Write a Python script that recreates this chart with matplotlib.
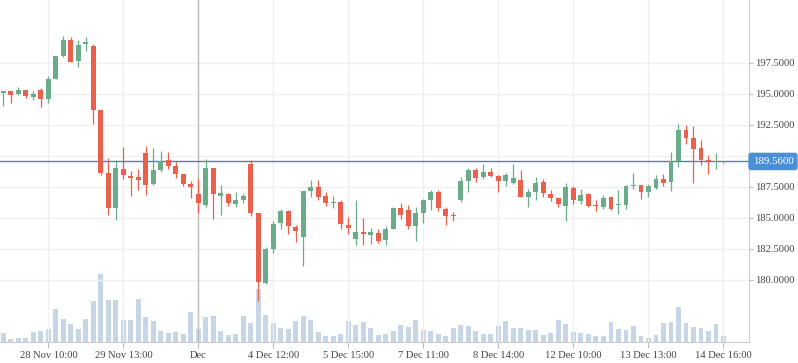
import matplotlib
matplotlib.use("Agg")
import matplotlib.pyplot as plt
import numpy as np

opens = [195.11,195.24,195.00,195.32,194.76,195.32,194.63,196.21,198.07,199.36,
         197.66,199.03,198.87,193.71,188.63,185.81,188.95,188.39,188.31,190.24,
         187.74,188.87,189.68,189.19,188.55,187.74,186.94,186.05,189.03,186.78,
         186.94,186.13,186.45,189.35,185.43,179.78,182.53,184.60,185.56,184.27,
         183.47,187.18,187.50,186.77,186.24,186.29,184.44,183.31,183.87,183.63,
         183.79,183.23,184.11,185.81,185.65,184.35,185.40,186.45,187.10,185.73,
         185.24,186.45,187.98,188.87,188.31,188.71,188.39,187.98,187.82,188.06,
         186.70,187.10,187.90,186.94,186.61,185.97,187.42,186.37,186.94,186.05,
         185.89,186.69,186.05,186.05,187.58,187.66,187.10,187.42,188.15,187.90,
         189.60,192.10,191.45,190.65,189.68,189.52,189.60]
closes = [195.24,194.95,195.32,194.87,195.00,194.63,196.21,198.07,199.36,197.58,
          198.95,199.19,193.71,188.63,185.81,189.03,188.47,188.23,188.06,187.66,
          188.87,189.60,189.19,188.55,187.74,187.50,186.21,189.03,186.94,187.02,
          186.21,186.45,186.78,185.40,179.87,182.53,184.52,185.56,184.35,183.95,
          187.18,187.50,186.69,186.21,186.29,184.52,184.19,183.87,183.71,183.87,
          183.14,184.11,185.81,185.24,184.35,185.40,186.45,187.10,185.81,185.16,
          185.16,187.98,188.87,188.23,188.71,188.39,187.98,188.47,188.23,186.69,
          187.10,187.82,187.02,186.61,186.13,187.50,186.45,186.85,185.97,185.97,
          186.61,185.73,186.13,187.58,187.66,187.10,187.58,188.15,187.82,189.60,
          192.10,191.45,190.56,189.68,189.60,189.60,189.50]
highs = [195.24,195.24,195.57,195.32,195.24,195.48,196.45,198.07,199.70,199.60,
         199.36,199.60,199.03,193.71,189.84,189.68,190.73,188.79,188.95,190.81,
         190.65,190.40,190.32,189.52,188.55,187.98,188.15,189.76,189.03,187.66,
         187.02,187.10,187.02,189.68,185.43,182.69,184.76,185.73,185.65,184.44,
         187.18,188.06,188.06,187.10,186.77,186.45,185.08,186.45,185.00,184.19,
         184.11,184.35,185.89,186.21,186.05,185.89,186.53,187.26,187.26,185.89,
         185.48,188.31,189.03,189.03,189.36,189.03,188.47,188.63,189.36,188.87,
         187.34,188.31,188.15,187.26,186.69,187.82,187.58,187.34,187.02,186.45,
         186.85,186.69,187.26,187.66,188.63,187.66,187.74,188.47,188.55,190.32,
         192.58,192.50,192.42,191.29,190.08,190.24,189.62]
lows = [194.06,194.30,194.92,194.70,194.52,193.98,194.30,196.21,197.98,197.58,
        197.18,198.47,192.58,188.47,185.24,184.84,188.15,186.78,187.26,186.86,
        187.66,188.71,188.95,188.23,187.58,186.61,185.40,185.89,184.92,185.24,
        185.97,185.89,186.21,185.16,178.33,179.68,182.20,184.11,183.71,183.06,
        181.13,186.69,186.45,185.97,185.81,184.11,183.71,182.82,182.82,182.90,
        182.98,182.82,184.11,184.92,184.11,183.14,184.60,185.65,185.56,184.44,
        184.76,186.29,187.10,187.90,188.15,188.31,187.10,187.58,187.74,186.69,
        185.91,186.45,186.69,186.37,185.89,184.76,186.13,186.13,185.89,185.56,
        185.73,185.65,185.35,185.73,187.34,186.53,186.69,187.34,187.58,187.18,
        189.11,190.97,187.82,189.27,188.55,188.95,189.46]
volumes = [27,8,11,11,29,32,38,98,68,53,38,68,122,203,125,125,65,65,128,74,
           62,32,26,29,23,89,38,74,77,32,20,23,77,56,158,80,56,41,38,62,
           77,65,29,17,17,23,62,50,59,41,20,23,32,50,44,65,35,32,23,17,
           41,50,47,32,23,23,47,62,41,41,35,35,20,26,65,53,29,26,23,17,
           17,59,38,35,47,17,11,20,56,59,104,56,44,41,32,53,17]

tick_idx = [6, 16, 26, 36, 46, 56, 66, 76, 86, 96]
tick_labels = ["28 Nov 10:00", "29 Nov 13:00", "Dec", "4 Dec 12:00", "5 Dec 15:00",
               "7 Dec 11:00", "8 Dec 14:00", "12 Dec 10:00", "13 Dec 13:00", "14 Dec 16:00"]
ytick_vals = [180.0, 182.5, 185.0, 187.5, 190.0, 192.5, 195.0, 197.5]
last_price = 189.56
cross_idx = 26

UP = "#6aab8a"
DOWN = "#e9604c"
VOL = "#c6d6e7"

plt.rcParams['font.family'] = ['Liberation Serif', 'DejaVu Serif']

fig = plt.figure(figsize=(7.98, 3.63), dpi=100)
ax = fig.add_axes([0, 21/363, 749/798, 342/363])
axv = ax.twinx()
ax.set_zorder(axv.get_zorder() + 1)
ax.patch.set_visible(False)

n = len(opens)
x = np.arange(n)
o = np.array(opens); c = np.array(closes); h = np.array(highs); l = np.array(lows)
up = c >= o
colors = np.where(up, UP, DOWN)

axv.bar(x, volumes, width=0.66, color=VOL, zorder=1)
axv.set_ylim(0, 1026)
axv.set_yticks([])
for s in axv.spines.values():
    s.set_visible(False)

ax.vlines(x, l, h, colors=colors, linewidth=0.9, zorder=3)
body_h = np.maximum(np.abs(c - o), 0.09)
ax.bar(x, body_h, bottom=np.minimum(o, c), width=0.66, color=colors, zorder=4)

ax.set_xlim(-0.45, 99.4)
ax.set_ylim(175.0, 202.58)

ax.set_xticks(tick_idx)
ax.set_xticklabels(tick_labels)
ax.set_yticks(ytick_vals)
ax.set_yticklabels([f"{v:.4f}" if v != 190.0 else "" for v in ytick_vals])
ax.yaxis.tick_right()
ax.tick_params(axis='both', labelsize=7.6, colors="#bbbbbb", labelcolor="#444444",
               width=0.8)
ax.tick_params(axis='y', length=3, pad=1.5)
ax.tick_params(axis='x', length=4, pad=2.5)
ax.grid(True, color="#efefef", linewidth=1.0, zorder=0)

for k, s in ax.spines.items():
    s.set_visible(False)
ax.spines['right'].set_visible(True)
ax.spines['right'].set_color("#cccccc")
ax.spines['bottom'].set_visible(True)
ax.spines['bottom'].set_color("#cccccc")

ax.axvline(cross_idx, color="#bdbdbd", linewidth=1.0, zorder=2)
ax.axhline(last_price, color="#4f7fb8", linewidth=1.0, zorder=2)

ax.annotate(f"{last_price:.4f}", xy=(1.0, last_price),
            xycoords=('axes fraction', 'data'), xytext=(2.6, 0),
            textcoords='offset points', ha='left', va='center',
            fontsize=7.8, color="white",
            bbox=dict(boxstyle="round,pad=0.33,rounding_size=0.2",
                      fc="#4a90d9", ec="#4a90d9"),
            annotation_clip=False, zorder=10)

fig.savefig("out.png", dpi=100)
